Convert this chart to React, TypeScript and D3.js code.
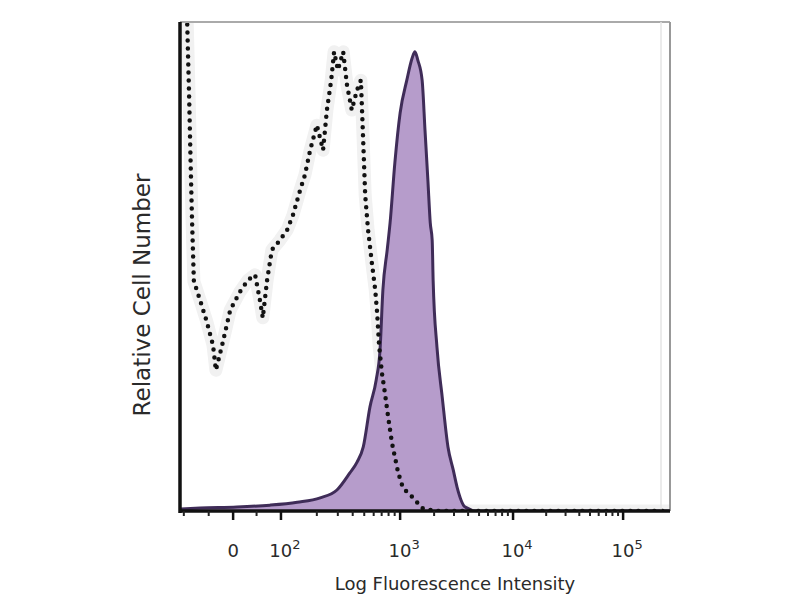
import React, {useRef, useEffect} from "react";
import * as d3 from "d3";

// channel units (0-1024) on x, relative count (0-100) on y
const stainedX = [2, 42, 119, 188, 245, 293, 328, 355, 370, 383, 397, 410, 418, 424, 433, 439, 449, 460, 474, 485, 491, 497, 506, 512, 518, 523, 527, 529, 537, 548, 560, 571, 579, 596, 621, 1024];
const stainedY = [0.4, 0.6, 0.8, 1.2, 1.8, 2.7, 4.3, 7.8, 10.0, 13.1, 21.3, 26.8, 32.9, 45.2, 53.4, 58.9, 71.2, 81.4, 88.1, 92.6, 93.9, 92.2, 88.1, 77.9, 67.7, 58.9, 55.4, 47.2, 33.5, 23.3, 13.1, 8.4, 4.9, 0.8, 0, 0];

const controlX = [8, 15, 19, 22, 25, 29, 42, 56, 69, 75, 88, 105, 125, 142, 157, 167, 173, 182, 192, 209, 224, 236, 251, 261, 272, 286, 299, 307, 316, 322, 330, 341, 349, 359, 370, 378, 382, 387, 393, 401, 408, 412, 416, 422, 428, 435, 443, 456, 466, 487, 506, 533, 1024];
const controlY = [106, 100, 85, 72, 60, 47, 43.1, 38.7, 33.9, 28.8, 33.9, 41.1, 44.8, 47.2, 48.3, 43.1, 39.5, 47.2, 53.4, 55.4, 57.5, 60.5, 65.6, 68.7, 73.8, 78.9, 73.8, 82.0, 88.1, 93.9, 90.2, 93.9, 87.1, 82.0, 86.1, 88.1, 77.9, 64.6, 57.5, 50.7, 45.2, 40.5, 33.9, 28.2, 24.3, 19.2, 13.9, 7.8, 4.7, 2.7, 0.6, 0, 0];

const tickChannels = [111, 211, 460, 696, 926];
const tickBase = ["0", "10", "10", "10", "10"];
const tickExp = ["", "2", "3", "4", "5"];
const decadeExp = [2, 3, 4, 5];

const xTitle = "Log Fluorescence Intensity";
const yTitle = "Relative Cell Number";

export default function App() {
  const svgRef = useRef<SVGSVGElement>(null);

  useEffect(() => {
    const svg = d3.select(svgRef.current);
    svg.selectAll("*").remove();

    const left = 180, right = 670, top = 22, bottom = 511;
    const x = d3.scaleLinear().domain([0, 1024]).range([left, right]);
    const y = d3.scaleLinear().domain([0, 100]).range([bottom, top]);

    svg.append("rect").attr("width", 800).attr("height", 600).attr("fill", "#fff");

    svg.append("defs").append("clipPath").attr("id", "plot")
      .append("rect").attr("x", left).attr("y", top).attr("width", right - left).attr("height", bottom - top);

    const g = svg.append("g").attr("clip-path", "url(#plot)");

    const stained = stainedX.map((v, i) => [v, stainedY[i]]);
    const control = controlX.map((v, i) => [v, controlY[i]]);

    const area = d3.area()
      .x((d) => x(d[0]))
      .y0(y(0))
      .y1((d) => y(d[1]))
      .curve(d3.curveMonotoneX);
    const line = d3.line()
      .x((d) => x(d[0]))
      .y((d) => y(d[1]))
      .curve(d3.curveMonotoneX);
    const dotLine = d3.line()
      .x((d) => x(d[0]))
      .y((d) => y(d[1]));

    // soft grey halo around the dotted control (jpeg look)
    g.append("path")
      .attr("d", dotLine(control))
      .attr("fill", "none")
      .attr("stroke", "#f1f1f1")
      .attr("stroke-width", 13)
      .attr("stroke-linejoin", "round");

    g.append("path")
      .attr("d", area(stained))
      .attr("fill", "#b69ccb");
    g.append("path")
      .attr("d", line(stained))
      .attr("fill", "none")
      .attr("stroke", "#3f2c58")
      .attr("stroke-width", 3);

    g.append("path")
      .attr("d", dotLine(control))
      .attr("fill", "none")
      .attr("stroke", "#111")
      .attr("stroke-width", 4.5)
      .attr("stroke-linecap", "round")
      .attr("stroke-dasharray", "0 8");

    // frame
    svg.append("line").attr("x1", left).attr("x2", right).attr("y1", top).attr("y2", top)
      .attr("stroke", "#aaa").attr("stroke-width", 2);
    svg.append("line").attr("x1", right).attr("x2", right).attr("y1", top).attr("y2", bottom)
      .attr("stroke", "#999").attr("stroke-width", 2);
    svg.append("line").attr("x1", right - 9).attr("x2", right - 9).attr("y1", top).attr("y2", bottom)
      .attr("stroke", "#e4e4e4").attr("stroke-width", 1.5);
    svg.append("line").attr("x1", left).attr("x2", left).attr("y1", top).attr("y2", bottom + 2)
      .attr("stroke", "#111").attr("stroke-width", 3.5);
    svg.append("line").attr("x1", left).attr("x2", right).attr("y1", bottom).attr("y2", bottom)
      .attr("stroke", "#111").attr("stroke-width", 3.5);

    // minor ticks inside each decade
    const minor = [];
    decadeExp.slice(0, 3).forEach((e, i) => {
      const c0 = tickChannels[i + 1], c1 = tickChannels[i + 2];
      for (let m = 2; m <= 9; m++) minor.push(c0 + (c1 - c0) * Math.log10(m));
    });
    minor.push(8, 60, 160);
    svg.append("g").selectAll("line").data(minor).join("line")
      .attr("x1", (d) => x(d)).attr("x2", (d) => x(d))
      .attr("y1", bottom).attr("y2", bottom + 5)
      .attr("stroke", "#222").attr("stroke-width", 2);

    svg.append("g").selectAll("line").data(tickChannels).join("line")
      .attr("x1", (d) => x(d)).attr("x2", (d) => x(d))
      .attr("y1", bottom).attr("y2", bottom + 9)
      .attr("stroke", "#111").attr("stroke-width", 2.5);

    const labels = svg.append("g").selectAll("text").data(tickChannels).join("text")
      .attr("x", (d, i) => x(d) + (i === 0 ? 0 : 4))
      .attr("y", 557)
      .attr("text-anchor", "middle")
      .style("font-family", "DejaVu Sans, sans-serif")
      .style("font-size", "18px")
      .style("fill", "#2a2a2a");
    labels.append("tspan").text((d, i) => tickBase[i]);
    labels.append("tspan")
      .attr("dy", -8)
      .style("font-size", "13px")
      .text((d, i) => tickExp[i]);

    svg.append("text")
      .attr("x", 455).attr("y", 590)
      .attr("text-anchor", "middle")
      .style("font-family", "DejaVu Sans, sans-serif")
      .style("font-size", "18px")
      .style("fill", "#2a2a2a")
      .text(xTitle);

    svg.append("text")
      .attr("transform", "translate(150,295) rotate(-90)")
      .attr("text-anchor", "middle")
      .style("font-family", "DejaVu Sans, sans-serif")
      .style("font-size", "23px")
      .style("fill", "#2a2a2a")
      .text(yTitle);
  }, []);

  return (
    <svg
      ref={svgRef}
      width={800}
      height={600}
      style={{position: "absolute", left: 0, top: 0, display: "block"}}
    />
  );
}
